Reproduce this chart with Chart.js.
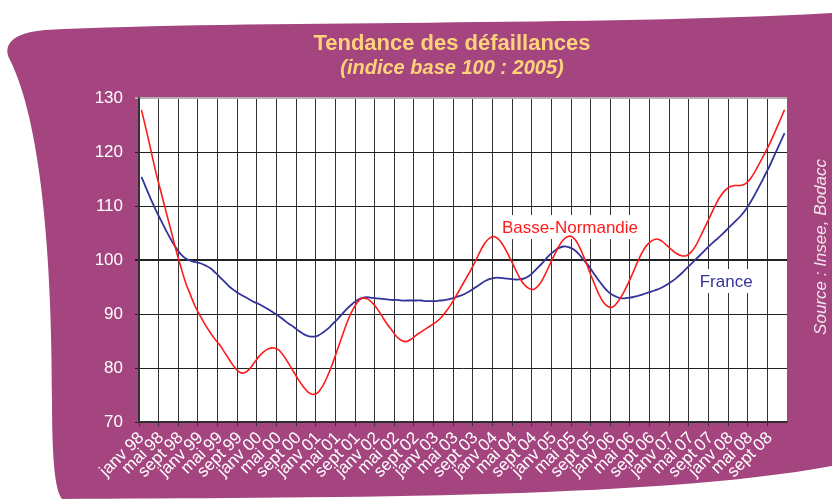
<!DOCTYPE html>
<html>
<head>
<meta charset="utf-8">
<title>Tendance des défaillances</title>
<script src="https://cdn.jsdelivr.net/npm/chart.js@4.4.1/dist/chart.umd.min.js"></script>
<style>
  html, body { margin: 0; padding: 0; background: #fff; }
  canvas { display: block; }
</style>
</head>
<body>
<canvas id="myChart" width="832" height="503"></canvas>
<script>
// categories : un point par mois, janv 98 -> déc 08
const years = ['98', '99', '00', '01', '02', '03', '04', '05', '06', '07', '08'];
const monthNames = ['janv', 'févr', 'mars', 'avr', 'mai', 'juin', 'juil', 'août', 'sept', 'oct', 'nov', 'déc'];

// indice base 100 : 2005
const basseNormandie = [
  127.8, 124.0, 120.0, 116.0, 112.5, 109.0, 105.5, 102.0, 98.8, 95.8, 93.5, 91.3,
  89.6, 88.0, 86.6, 85.3, 84.2, 82.8, 81.4, 80.1, 79.2, 79.1, 79.8, 81.0,
  82.2, 83.1, 83.6, 83.7, 83.3, 82.2, 80.8, 79.3, 77.8, 76.5, 75.5, 75.1,
  75.5, 76.8, 78.7, 81.0, 83.6, 86.2, 88.7, 90.7, 92.2, 92.9, 92.8, 92.1,
  91.0, 89.6, 88.2, 87.0, 85.8, 85.1, 84.9, 85.4, 86.1, 86.7, 87.3, 87.9,
  88.5, 89.3, 90.4, 91.7, 93.2, 94.8, 96.4, 98.0, 99.7, 101.6, 103.2, 104.1,
  104.3, 103.6, 102.2, 100.5, 98.6, 96.8, 95.4, 94.7, 94.6, 95.4, 96.9, 98.8,
  100.7, 102.5, 103.8, 104.4, 104.1, 102.8, 100.8, 98.5, 96.2, 94.0, 92.3, 91.4,
  91.3, 92.2, 93.6, 95.4, 97.4, 99.5, 101.4, 102.8, 103.6, 103.9, 103.5, 102.7,
  101.9, 101.2, 100.8, 100.8, 101.5, 102.8, 104.6, 106.5, 108.4, 110.3, 111.9, 113.0,
  113.6, 113.8, 113.8, 114.1, 115.0, 116.4, 118.1, 119.8, 121.6, 123.6, 125.7, 127.8
];
const france = [
  115.4, 113.2, 111.1, 109.1, 107.3, 105.5, 103.8, 102.3, 101.1, 100.3, 99.9, 99.6,
  99.4, 99.0, 98.5, 97.7, 96.8, 95.9, 95.0, 94.3, 93.7, 93.2, 92.7, 92.2,
  91.8, 91.3, 90.8, 90.2, 89.6, 88.9, 88.2, 87.6, 86.9, 86.3, 85.9, 85.8,
  86.0, 86.6, 87.3, 88.2, 89.1, 90.1, 91.1, 91.9, 92.6, 93.0, 93.1, 93.0,
  92.9, 92.8, 92.7, 92.6, 92.6, 92.5, 92.5, 92.5, 92.5, 92.5, 92.4, 92.4,
  92.4, 92.5, 92.6, 92.8, 93.1, 93.4, 93.8, 94.3, 94.9, 95.5, 96.1, 96.5,
  96.7, 96.7, 96.6, 96.5, 96.4, 96.4, 96.6, 97.1, 97.9, 98.8, 99.8, 100.8,
  101.6, 102.2, 102.5, 102.4, 102.0, 101.2, 100.1, 99.0, 97.7, 96.4, 95.2, 94.2,
  93.5, 93.1, 92.9, 93.0, 93.1, 93.3, 93.6, 93.9, 94.2, 94.5, 94.9, 95.4,
  96.0, 96.7, 97.5, 98.4, 99.3, 100.2, 101.1, 102.0, 102.9, 103.7, 104.5, 105.4,
  106.3, 107.2, 108.1, 109.2, 110.6, 112.2, 113.9, 115.7, 117.5, 119.5, 121.5, 123.5
];

const yTicks = [70, 80, 90, 100, 110, 120, 130];

const months = [];
years.forEach(y => {
  monthNames.forEach(m => months.push(m + ' ' + y));
});

const purple = '#A4457F';

// fond violet + zone blanche du graphique
const decor = {
  id: 'decor',
  beforeDraw(chart) {
    const c = chart.ctx;
    const a = chart.chartArea;
    c.save();
    c.fillStyle = purple;
    c.beginPath();
    c.moveTo(832, 13);
    c.bezierCurveTo(600, 26, 250, 20, 45, 30);
    c.bezierCurveTo(12, 33, 2, 45, 10, 60);
    c.bezierCurveTo(40, 120, 52, 250, 52, 400);
    c.bezierCurveTo(52, 460, 55, 490, 62, 499);
    c.bezierCurveTo(300, 497, 650, 500, 832, 466);
    c.closePath();
    c.fill();
    c.fillStyle = '#fff';
    c.fillRect(a.left, a.top, a.width, a.height);
    c.restore();
  },
  beforeDatasetsDraw(chart) {
    const c = chart.ctx;
    const x = chart.scales.x, y = chart.scales.y;
    c.save();
    c.font = '17px "Liberation Sans", Arial, sans-serif';
    c.textAlign = 'center';
    c.textBaseline = 'middle';
    const tags = [
      { text: 'Basse-Normandie', i: 87.3, v: 106.1, color: '#FF1A1A' },
      { text: 'France', i: 119.1, v: 96.1, color: '#333399' }
    ];
    tags.forEach(t => {
      const px = x.getPixelForValue(t.i), py = y.getPixelForValue(t.v);
      const w = c.measureText(t.text).width;
      c.fillStyle = '#fff';
      c.fillRect(px - w / 2 - 3, py - 12, w + 6, 24);
      c.fillStyle = t.color;
      c.fillText(t.text, px, py + 1);
    });
    c.restore();
  },
  afterDraw(chart) {
    const c = chart.ctx;
    c.save();
    c.textAlign = 'center';
    c.textBaseline = 'middle';
    c.fillStyle = '#FFD37A';
    c.font = 'bold 22px "Liberation Sans", Arial, sans-serif';
    c.fillText('Tendance des défaillances', 452, 44);
    c.font = 'italic bold 20px "Liberation Sans", Arial, sans-serif';
    c.fillText('(indice base 100 : 2005)', 452, 68);
    c.translate(821, 247);
    c.rotate(-Math.PI / 2);
    c.fillStyle = 'rgba(255,255,255,0.85)';
    c.font = 'italic 17px "Liberation Sans", Arial, sans-serif';
    c.fillText('Source : Insee, Bodacc', 0, 0);
    c.restore();
  }
};

const ctx = document.querySelector('#myChart').getContext('2d');
const myChart = new Chart(ctx, {
  type: 'line',
  data: {
    labels: months,
    datasets: [{
      label: 'Basse-Normandie',
      data: basseNormandie,
      borderColor: '#FF1A1A',
      borderWidth: 1.6,
      pointRadius: 0,
      tension: 0.4
    }, {
      label: 'France',
      data: france,
      borderColor: '#333399',
      borderWidth: 1.8,
      pointRadius: 0,
      tension: 0.4
    }]
  },
  options: {
    responsive: false,
    animation: false,
    layout: { padding: { left: 80, right: 45, top: 98, bottom: 0 } },
    plugins: {
      legend: { display: false },
      tooltip: { enabled: false }
    },
    scales: {
      x: {
        offset: true,
        grid: {
          offset: true,
          tickLength: 4,
          lineWidth: 1,
          color: c => c.index % 4 !== 0 ? 'rgba(0,0,0,0)' : (c.index === months.length ? '#A8A8A8' : '#333')
        },
        border: { color: '#333', width: 1.5 },
        ticks: {
          autoSkip: false,
          minRotation: 45,
          maxRotation: 45,
          padding: 2,
          color: '#fff',
          font: { family: '"Liberation Sans", Arial, sans-serif', size: 17 },
          callback: function (val, i) { return i % 4 === 0 ? months[i] : ''; }
        },
        afterFit: s => { s.height = 81; }
      },
      y: {
        min: 70,
        max: 130,
        afterBuildTicks: s => { s.ticks = yTicks.map(v => ({ value: v })); },
        grid: {
          tickLength: 4,
          color: c => c.tick && c.tick.value === 130 ? '#B0B0B0' : '#222',
          lineWidth: c => c.tick && (c.tick.value === 100 || c.tick.value === 130) ? 2 : 1
        },
        border: { color: '#333', width: 1.5 },
        ticks: {
          padding: 12,
          color: '#fff',
          font: { family: '"Liberation Sans", Arial, sans-serif', size: 17 }
        },
        afterFit: s => { s.width = 59; }
      }
    }
  },
  plugins: [decor]
});
</script>
</body>
</html>
